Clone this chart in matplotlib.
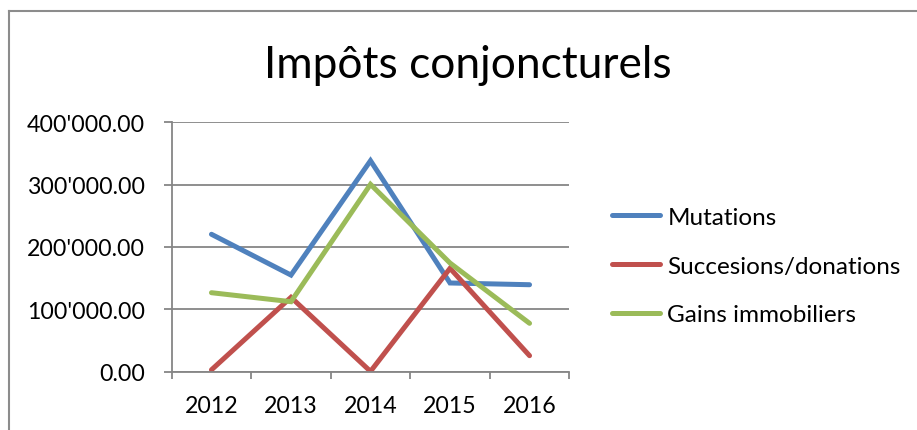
import matplotlib
matplotlib.use("Agg")
import matplotlib.pyplot as plt
from matplotlib.lines import Line2D
from matplotlib.ticker import FuncFormatter, FixedLocator

plt.rcParams["font.family"] = ["Lato", "DejaVu Sans"]

years = ["2012", "2013", "2014", "2015", "2016"]
mutations = [220400, 155000, 338400, 142300, 139500]
successions = [3000, 119300, 500, 165800, 25700]
gains = [126700, 112300, 300500, 174300, 77600]

series = [
    ("Mutations", mutations, "#4F81BD"),
    ("Succesions/donations", successions, "#C0504D"),
    ("Gains immobiliers", gains, "#9BBB59"),
]

GRID = "#868686"
W, H = 917, 431

fig = plt.figure(figsize=(W / 100, H / 100), dpi=100, facecolor="white")

# chart frame (only top and left edges visible in the crop)
fig.add_artist(Line2D([8.5 / W, 8.5 / W], [0, 1 - 11.5 / H], color="#8c8c8c", lw=1.5))
fig.add_artist(Line2D([8.5 / W, 1], [1 - 11.5 / H, 1 - 11.5 / H], color="#8c8c8c", lw=1.5))

ax = fig.add_axes([171.7 / W, 58.3 / H, 397.6 / W, 249.4 / H])
x = list(range(len(years)))
for name, values, color in series:
    ax.plot(x, values, color=color, lw=3.6, solid_capstyle="round", solid_joinstyle="miter", label=name)

ax.set_xlim(-0.5, len(years) - 0.5)
ax.set_ylim(0, 400000)
ax.set_yticks([0, 100000, 200000, 300000, 400000])
ax.yaxis.set_major_formatter(FuncFormatter(lambda v, p: f"{v:,.2f}".replace(",", "'")))
ax.grid(axis="y", color=GRID, lw=1.3)
ax.set_axisbelow(True)

ax.set_xticks(x)
ax.set_xticklabels(years)
ax.xaxis.set_minor_locator(FixedLocator([i - 0.5 for i in range(len(years) + 1)]))
ax.tick_params(axis="x", which="major", length=0, pad=17, labelsize=16.7)
ax.tick_params(axis="x", which="minor", length=5, width=1.3, color=GRID)
ax.tick_params(axis="y", length=6, width=1.3, color=GRID, pad=13, labelsize=16.7)

for side in ["top", "right"]:
    ax.spines[side].set_visible(False)
for side in ["left", "bottom"]:
    ax.spines[side].set_color(GRID)
    ax.spines[side].set_linewidth(1.3)

fig.text(468 / W, 1 - 66 / H, "Impôts conjoncturels", ha="center", va="center", fontsize=31.9)

fig.legend(
    loc="center left",
    bbox_to_anchor=(611.5 / W, 1 - 267 / H),
    frameon=False,
    fontsize=17.5,
    borderpad=0,
    borderaxespad=0,
    handlelength=2.0,
    handletextpad=0.3,
    labelspacing=1.15,
)

fig.savefig("out.png", dpi=100, facecolor="white")
